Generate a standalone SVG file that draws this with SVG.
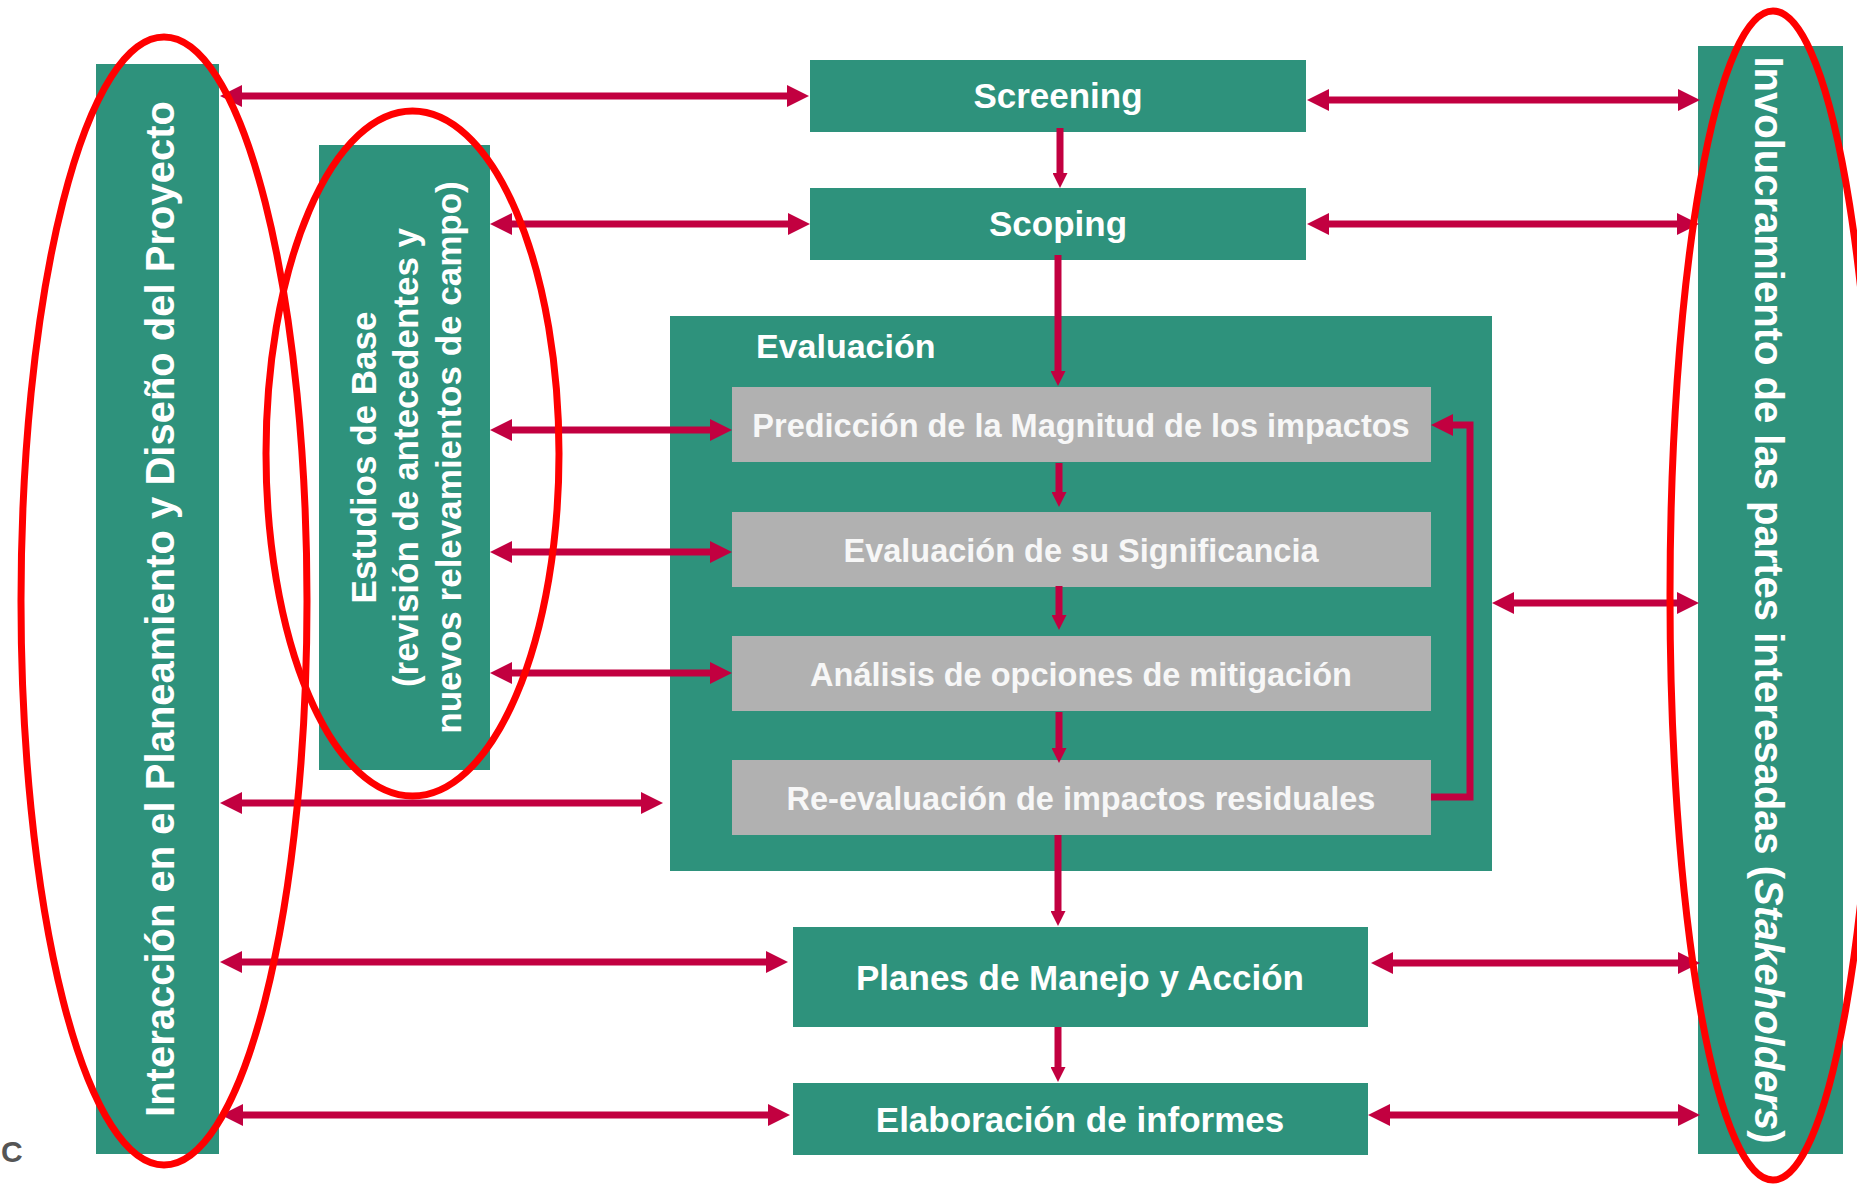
<svg xmlns="http://www.w3.org/2000/svg" width="1857" height="1187" viewBox="0 0 1857 1187">
<defs>
<style>
.g{fill:#2E927C}
.gr{fill:#B1B1B1}
.t{font-family:"Liberation Sans",Arial,sans-serif;font-weight:bold;fill:#FFFFFF}
.tc{text-anchor:middle}
.tg{fill:#F7F7F7}
.a{stroke:#C20040;stroke-width:7;fill:none}
.e{fill:none;stroke:#FF0000;stroke-width:7}
</style>
<marker id="h" markerUnits="userSpaceOnUse" markerWidth="22" markerHeight="22" refX="10" refY="11" orient="auto-start-reverse">
<path d="M0,0 L22,11 L0,22 z" fill="#C20040"/>
</marker>
<marker id="v" markerUnits="userSpaceOnUse" markerWidth="15" markerHeight="15" refX="7" refY="7.5" orient="auto">
<path d="M0,0 L15,7.5 L0,15 z" fill="#C20040"/>
</marker>
</defs>
<rect width="1857" height="1187" fill="#FFFFFF"/>

<g id="interaccion">
<rect class="g" x="96" y="64" width="123" height="1090"/>
<text class="t tc" font-size="40" transform="translate(174,609) rotate(-90)">Interacción en el Planeamiento y Diseño del Proyecto</text>
</g>

<g id="estudios">
<rect class="g" x="319" y="145" width="171" height="625"/>
<g class="t tc" font-size="35" transform="translate(0,457.5) rotate(-90)">
<text x="0" y="375.5">Estudios de Base</text>
<text x="0" y="418">(revisión de antecedentes y</text>
<text x="0" y="460.5">nuevos relevamientos de campo)</text>
</g>
</g>

<g id="screening">
<rect class="g" x="810" y="60" width="496" height="72"/>
<text class="t tc" font-size="35" x="1058" y="108">Screening</text>
</g>

<g id="scoping">
<rect class="g" x="810" y="188" width="496" height="72"/>
<text class="t tc" font-size="35" x="1058" y="236">Scoping</text>
</g>

<g id="evaluacion">
<rect class="g" x="670" y="316" width="822" height="555"/>
<text class="t" font-size="34" x="756" y="358">Evaluación</text>
</g>

<g id="prediccion">
<rect class="gr" x="732" y="387" width="699" height="75"/>
<text class="t tc tg" font-size="32.5" x="1081" y="437">Predicción de la Magnitud de los impactos</text>
</g>

<g id="significancia">
<rect class="gr" x="732" y="512" width="699" height="75"/>
<text class="t tc tg" font-size="32.5" x="1081" y="562">Evaluación de su Significancia</text>
</g>

<g id="mitigacion">
<rect class="gr" x="732" y="636" width="699" height="75"/>
<text class="t tc tg" font-size="32.5" x="1081" y="686">Análisis de opciones de mitigación</text>
</g>

<g id="reevaluacion">
<rect class="gr" x="732" y="760" width="699" height="75"/>
<text class="t tc tg" font-size="32.5" x="1081" y="810">Re-evaluación de impactos residuales</text>
</g>

<g id="planes">
<rect class="g" x="793" y="927" width="575" height="100"/>
<text class="t tc" font-size="35" x="1080" y="990">Planes de Manejo y Acción</text>
</g>

<g id="informes">
<rect class="g" x="793" y="1083" width="575" height="72"/>
<text class="t tc" font-size="35" x="1080" y="1132">Elaboración de informes</text>
</g>

<g id="involucramiento">
<rect class="g" x="1698" y="46" width="145" height="1108"/>
<text class="t tc" font-size="40" transform="translate(1755,600) rotate(90)">Involucramiento de las partes interesadas (<tspan font-style="italic">Stakeholders</tspan>)</text>
</g>

<g id="connectors">
<g class="a" marker-start="url(#h)" marker-end="url(#h)">
<line x1="232" y1="96" x2="797" y2="96"/>
<line x1="502" y1="224" x2="798" y2="224"/>
<line x1="502" y1="430" x2="720" y2="430"/>
<line x1="502" y1="552" x2="720" y2="552"/>
<line x1="502" y1="673" x2="720" y2="673"/>
<line x1="232" y1="803" x2="651" y2="803"/>
<line x1="232" y1="962" x2="776" y2="962"/>
<line x1="233" y1="1115" x2="778" y2="1115"/>
<line x1="1319" y1="100" x2="1688" y2="100"/>
<line x1="1319" y1="224" x2="1687" y2="224"/>
<line x1="1504" y1="603" x2="1687" y2="603"/>
<line x1="1383" y1="963" x2="1688" y2="963"/>
<line x1="1380" y1="1115" x2="1688" y2="1115"/>
</g>
<g class="a" marker-end="url(#v)">
<line x1="1060" y1="128" x2="1060" y2="180"/>
<line x1="1058" y1="255" x2="1058" y2="378"/>
<line x1="1059" y1="463" x2="1059" y2="499"/>
<line x1="1059" y1="586" x2="1059" y2="622"/>
<line x1="1059" y1="712" x2="1059" y2="755"/>
<line x1="1058" y1="835" x2="1058" y2="918"/>
<line x1="1058" y1="1027" x2="1058" y2="1074"/>
</g>
<path class="a" d="M1431,797 H1470 V425 H1443" marker-end="url(#h)"/>
</g>

<g id="highlights">
<ellipse class="e" cx="164" cy="601" rx="143" ry="564"/>
<ellipse class="e" cx="412.5" cy="453.5" rx="146.5" ry="342.5"/>
<ellipse class="e" cx="1773" cy="595.5" rx="103" ry="584.5"/>
</g>

<text x="1" y="1162" font-family="'Liberation Sans',Arial,sans-serif" font-weight="bold" font-size="30" fill="#555555">C</text>
</svg>
